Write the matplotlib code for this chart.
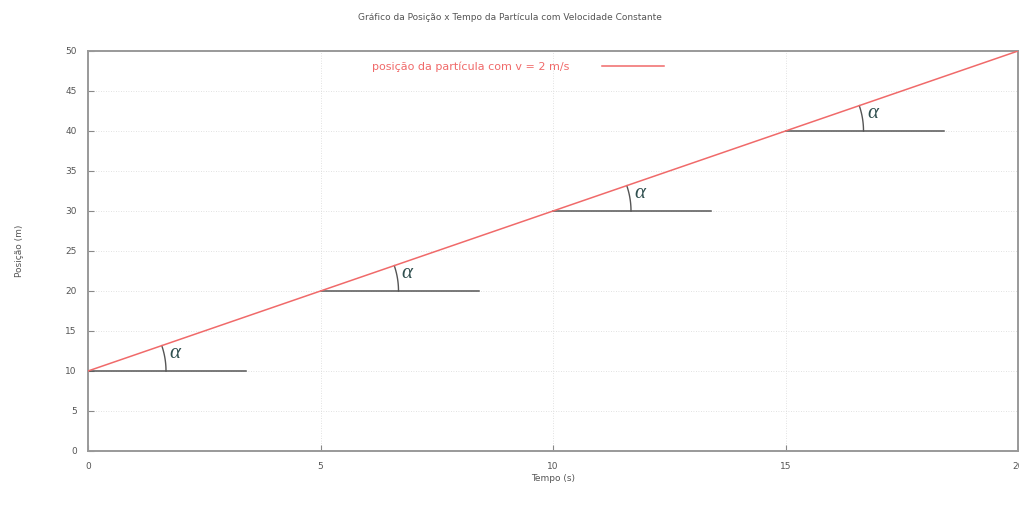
import matplotlib
matplotlib.use('Agg')
import matplotlib.pyplot as plt
import numpy as np

# data
tempo = [0, 20]
posicao = [10, 50]
x_ticks = [0, 5, 10, 15, 20]
y_ticks = [0, 5, 10, 15, 20, 25, 30, 35, 40, 45, 50]
# starting points of the horizontal reference lines (angle alpha)
ref_t = [0, 5, 10, 15]
ref_s = [10, 20, 30, 40]
ref_len = 3.4

W, H = 1019, 513
fig = plt.figure(figsize=(W / 100, H / 100), dpi=100)
ax = fig.add_axes([88 / W, 62 / H, 930 / W, 400 / H])

ax.plot(tempo, posicao, color='#f06a6a', lw=1.1, zorder=3,
        label='posição da partícula com v = 2 m/s')

ax.set_xlim(0, 20)
ax.set_ylim(0, 50)
ax.set_xticks(x_ticks)
ax.set_yticks(y_ticks)
ax.grid(True, color='#d8d8d8', lw=0.6, ls=(0, (1, 2)))
ax.tick_params(direction='in', length=4, colors='#888888', labelsize=6.5,
               labelcolor='#555555', pad=8)
for s in ax.spines.values():
    s.set_color('#999999')
    s.set_linewidth(1.4)

# pixels per data unit, used to draw circular arcs in screen space
px_x = 930 / 20
px_y = 400 / 50
ang = np.degrees(np.arctan((posicao[1] - posicao[0]) / (tempo[1] - tempo[0]) * px_y / px_x))
r = 78
th = np.radians(np.linspace(0, ang, 30))
for t0, s0 in zip(ref_t, ref_s):
    ax.plot([t0, t0 + ref_len], [s0, s0], color='#555555', lw=1.1, zorder=2)
    ax.plot(t0 + r * np.cos(th) / px_x, s0 + r * np.sin(th) / px_y,
            color='#555555', lw=1.0, zorder=2)
    ax.text(t0 + 1.75, s0 + 2.2, 'α', fontsize=15, color='#2f4f4f',
            family='Liberation Serif', style='italic', ha='left', va='center')

leg = ax.legend(loc='upper center', bbox_to_anchor=(0.462, 1.0), frameon=False,
                markerfirst=False, fontsize=8, labelcolor='#f06a6a',
                handlelength=5.5, handletextpad=3)

ax.set_xlabel('Tempo (s)', fontsize=6.5, color='#555555', labelpad=2)
ax.set_ylabel('Posição (m)', fontsize=6.5, color='#555555', labelpad=30)
fig.text(0.5, 1 - 17 / H, 'Gráfico da Posição x Tempo da Partícula com Velocidade Constante',
         ha='center', va='center', fontsize=6.5, color='#555555')

fig.savefig('out.png', dpi=100)
